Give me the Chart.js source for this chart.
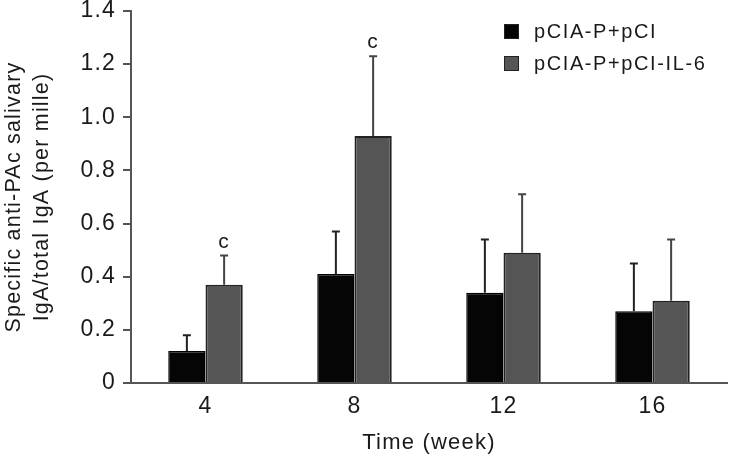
<!DOCTYPE html>
<html>
<head>
<meta charset="utf-8">
<script src="https://cdn.jsdelivr.net/npm/chart.js@4"></script>
<style>
  html, body { margin: 0; padding: 0; background: #fff; }
  #wrap { position: relative; width: 729px; height: 456px; }
  #legend { position: absolute; left: 504px; top: 15px; font: 20px "Liberation Sans", Arial, sans-serif; color: #1a1a1a; letter-spacing: 1.6px; }
  #legend div { height: 32px; line-height: 32px; white-space: nowrap; }
  #legend span { display: inline-block; width: 13px; height: 13px; margin-right: 15px; vertical-align: -1px; border: 1.5px solid #222; }
</style>
</head>
<body>
<div id="wrap">
  <canvas id="chart" width="729" height="456"></canvas>
  <div id="legend"></div>
</div>
<script>
// data
const weeks = ['4', '8', '12', '16'];
const seriesNames = ['pCIA-P+pCI', 'pCIA-P+pCI-IL-6'];
const controlMeans = [0.12, 0.41, 0.34, 0.27];
const controlSD = [0.06, 0.16, 0.20, 0.18];
const il6Means = [0.37, 0.93, 0.49, 0.31];
const il6SD = [0.11, 0.30, 0.22, 0.23];
const il6Marks = ['c', 'c', '', ''];
const yTicks = [0, 0.2, 0.4, 0.6, 0.8, 1.0, 1.2, 1.4];

const fontFamily = '"Liberation Sans", Arial, sans-serif';
const textColor = '#1a1a1a';
const axisColor = '#555';

document.addEventListener('DOMContentLoaded', () => {
    // letter spacing for canvas text (reference text is loosely tracked)
    const tracking = {
        id: 'tracking',
        beforeDraw(chart) { chart.ctx.letterSpacing = '1.2px'; }
    };

    // upward error bars + significance letters
    const errorBars = {
        id: 'errorBars',
        afterDatasetsDraw(chart) {
            const ctx = chart.ctx;
            const y = chart.scales.y;
            chart.data.datasets.forEach((ds, i) => {
                const meta = chart.getDatasetMeta(i);
                meta.data.forEach((bar, j) => {
                    const top = y.getPixelForValue(ds.data[j] + ds.errors[j]);
                    ctx.save();
                    ctx.strokeStyle = ds.errorColor;
                    ctx.lineWidth = 2;
                    ctx.beginPath();
                    ctx.moveTo(bar.x, bar.y);
                    ctx.lineTo(bar.x, top);
                    ctx.moveTo(bar.x - 4, top);
                    ctx.lineTo(bar.x + 4, top);
                    ctx.stroke();
                    if (ds.marks && ds.marks[j]) {
                        ctx.fillStyle = textColor;
                        ctx.font = '21px ' + fontFamily;
                        ctx.textAlign = 'center';
                        ctx.textBaseline = 'bottom';
                        ctx.fillText(ds.marks[j], bar.x, top - 3);
                    }
                    ctx.restore();
                });
            });
        }
    };

    const chart = new Chart(document.getElementById('chart'), {
        type: 'bar',
        data: {
            labels: weeks,
            datasets: [{
                label: seriesNames[0],
                data: controlMeans,
                errors: controlSD,
                errorColor: '#222',
                backgroundColor: '#050505',
                borderColor: '#000',
                borderWidth: 1.5
            }, {
                label: seriesNames[1],
                data: il6Means,
                errors: il6SD,
                errorColor: '#444',
                marks: il6Marks,
                backgroundColor: '#555',
                borderColor: '#222',
                borderWidth: 2
            }]
        },
        options: {
            responsive: false,
            animation: false,
            layout: { padding: { top: 11, right: 2, bottom: 0, left: 0 } },
            datasets: { bar: { categoryPercentage: 0.5, barPercentage: 1.0 } },
            plugins: { legend: { display: false }, tooltip: { enabled: false } },
            scales: {
                x: {
                    grid: { display: false },
                    border: { display: true, color: axisColor, width: 2 },
                    ticks: { color: textColor, font: { family: fontFamily, size: 23 }, padding: 2 },
                    title: { display: true, text: 'Time (week)', color: textColor, font: { family: fontFamily, size: 22 }, padding: { top: 0, bottom: 0 } },
                    afterFit(scale) {
                        scale.height = 73;
                        scale.paddingLeft = 0;
                        scale.paddingRight = 0;
                    }
                },
                y: {
                    min: 0,
                    max: 1.4,
                    afterBuildTicks(scale) { scale.ticks = yTicks.map(v => ({ value: v })); },
                    grid: { drawOnChartArea: false, drawTicks: true, tickLength: 8, color: axisColor, lineWidth: 2 },
                    border: { display: true, color: axisColor, width: 2 },
                    ticks: {
                        color: textColor,
                        font: { family: fontFamily, size: 23 },
                        padding: 7,
                        callback: v => (v === 0 ? '0' : v.toFixed(1))
                    },
                    title: {
                        display: true,
                        text: ['Specific anti-PAc salivary', 'IgA/total IgA (per mille)'],
                        color: textColor,
                        font: { family: fontFamily, size: 21.5, lineHeight: 1.32 },
                        padding: 0
                    },
                    afterFit(scale) {
                        scale.width = 131;
                        scale.paddingTop = 0;
                        scale.paddingBottom = 0;
                    }
                }
            }
        },
        plugins: [tracking, errorBars]
    });

    // legend as real text
    const legend = document.getElementById('legend');
    chart.data.datasets.forEach(ds => {
        const row = document.createElement('div');
        row.innerHTML = `<span style="background:${ds.backgroundColor}"></span>${ds.label}`;
        legend.appendChild(row);
    });
});
</script>
</body>
</html>
